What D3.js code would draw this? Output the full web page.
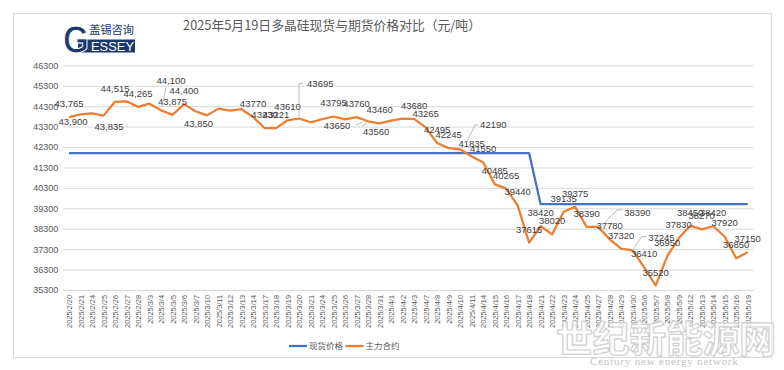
<!DOCTYPE html>
<html>
<head>
<meta charset="utf-8">
<script src="https://cdn.jsdelivr.net/npm/d3@7"></script>
<style>
  html, body { margin: 0; padding: 0; background: #fff; }
  svg { display: block; }
</style>
</head>
<body>
<div id="chart"></div>
<script>
const dates = [
  "2025/2/20","2025/2/21","2025/2/24","2025/2/25","2025/2/26","2025/2/27","2025/2/28",
  "2025/3/3","2025/3/4","2025/3/5","2025/3/6","2025/3/7",
  "2025/3/10","2025/3/11","2025/3/12","2025/3/13","2025/3/14",
  "2025/3/17","2025/3/18","2025/3/19","2025/3/20","2025/3/21",
  "2025/3/24","2025/3/25","2025/3/26","2025/3/27","2025/3/28",
  "2025/3/31","2025/4/1","2025/4/2","2025/4/3",
  "2025/4/7","2025/4/8","2025/4/9","2025/4/10","2025/4/11",
  "2025/4/14","2025/4/15","2025/4/16","2025/4/17","2025/4/18",
  "2025/4/21","2025/4/22","2025/4/23","2025/4/24","2025/4/25","2025/4/27",
  "2025/4/28","2025/4/29","2025/4/30",
  "2025/5/6","2025/5/7","2025/5/8","2025/5/9",
  "2025/5/12","2025/5/13","2025/5/14","2025/5/15","2025/5/16","2025/5/19"
];

// 现货价格
const spot = [
  42000,42000,42000,42000,42000,42000,42000,42000,42000,42000,
  42000,42000,42000,42000,42000,42000,42000,42000,42000,42000,
  42000,42000,42000,42000,42000,42000,42000,42000,42000,42000,
  42000,42000,42000,42000,42000,42000,42000,42000,42000,42000,
  42000,39500,39500,39500,39500,39500,39500,39500,39500,39500,
  39500,39500,39500,39500,39500,39500,39500,39500,39500,39500
];

// 主力合约
const futures = [
  43765,43900,43950,43835,44515,44540,44265,44420,44100,43875,
  44400,44050,43850,44180,44080,44150,43770,43230,43221,43610,
  43695,43510,43660,43795,43650,43760,43560,43460,43590,43690,
  43680,43265,42495,42245,42190,41835,41550,40485,40265,39440,
  37615,38420,38020,39135,39375,38390,38390,37780,37320,37245,
  36410,35520,36950,37830,38450,38270,38420,37920,36850,37150
];

// which futures points carry a data label
const labelled = [0,1,3,4,6,8,9,10,12,16,17,18,19,20,23,24,25,26,27,30,
  31,32,33,34,35,36,37,38,39,40,41,42,43,44,45,46,47,48,49,
  50,51,52,53,54,55,56,57,58,59];

const yTicks = [35300,36300,37300,38300,39300,40300,41300,42300,43300,44300,45300,46300];

const title = "2025年5月19日多晶硅现货与期货价格对比（元/吨）";
const seriesNames = ["现货价格", "主力合约"];

const width = 784, height = 370;
const blue = "#4472C4", orange = "#ED7D31";

const svg = d3.select("#chart")
  .append("svg")
  .attr("width", width)
  .attr("height", height)
  .attr("viewBox", [0, 0, width, height]);

svg.append("rect")
  .attr("x", 13.5).attr("y", 13.5)
  .attr("width", 758).attr("height", 344)
  .attr("fill", "#fff")
  .attr("stroke", "#d9d9d9");

const x = d3.scalePoint()
  .domain(dates)
  .range([63.25, 753.45])
  .padding(0.5);

const y = d3.scaleLinear()
  .domain([35300, 46300])
  .range([290, 65.3]);

// y axis + gridlines
svg.append("g")
  .attr("transform", "translate(63.25,0)")
  .call(d3.axisLeft(y).tickValues(yTicks).tickSize(0).tickPadding(5).tickFormat(d3.format("d")))
  .call(g => g.select(".domain").remove())
  .call(g => g.selectAll(".tick line").clone()
    .attr("x2", 690.2)
    .attr("stroke", "#d9d9d9")
    .attr("stroke-width", 1))
  .call(g => g.selectAll(".tick text")
    .attr("fill", "#595959")
    .attr("font-family", "'Liberation Sans', Arial, sans-serif")
    .attr("font-size", 9));

// x axis
svg.append("g")
  .attr("transform", "translate(0,290)")
  .call(d3.axisBottom(x).tickSize(0).tickPadding(5))
  .call(g => g.select(".domain").attr("stroke", "#d9d9d9")
    .attr("d", "M63.25,0.5H753.45"))
  .call(g => g.selectAll(".tick text")
    .attr("fill", "#595959")
    .attr("font-family", "'Liberation Sans', Arial, sans-serif")
    .attr("font-size", 7.4)
    .attr("text-anchor", "end")
    .attr("transform", "rotate(-90)")
    .attr("x", -5)
    .attr("y", 0)
    .attr("dy", "0.35em"));

const line = d3.line()
  .x((d, i) => x(dates[i]))
  .y(d => y(d));

svg.append("path")
  .attr("fill", "none")
  .attr("stroke", blue)
  .attr("stroke-width", 2.25)
  .attr("stroke-linejoin", "round")
  .attr("d", line(spot));

svg.append("path")
  .attr("fill", "none")
  .attr("stroke", orange)
  .attr("stroke-width", 2.25)
  .attr("stroke-linejoin", "round")
  .attr("d", line(futures));

// label placement tweaks (dx, dy of baseline from the point, anchor)
const place = {
  1: [-7.5, 11, "middle"],
  3: [5.5, 14.7, "middle"],
  8: [10, -26.6, "middle"],
  12: [-8.5, 12, "middle"],
  20: [8, -31.8, "start"],
  24: [-8, 9.5, "middle"],
  26: [8, 14, "middle"],
  34: [20, -21, "start"],
  46: [26, -10.5, "start"],
  49: [15.5, -9.6, "start"]
};
const leaders = {
  8: [[1, -3], [5, -23]],
  20: [[0, -2], [0, -35], [3.5, -35]],
  24: [[11, 5.5], [17, 3]],
  26: [[-6, 5], [-1, 1]],
  34: [[6.7, -7.6], [15, -24.3], [18, -24.3]],
  46: [[3.4, -1], [19, -17], [24, -17]],
  49: [[0.5, -1], [9, -13.6], [14, -13.6]]
};

const fmtComma = d3.format(",");
const labels = svg.append("g")
  .attr("font-family", "'Liberation Sans', Arial, sans-serif")
  .attr("font-size", 9.5)
  .attr("fill", "#404040");

svg.append("g")
  .attr("fill", "none")
  .attr("stroke", "#a6a6a6")
  .attr("stroke-width", 0.75)
  .selectAll("path")
  .data(Object.keys(leaders).map(Number))
  .join("path")
  .attr("d", i => d3.line()(leaders[i].map(([dx, dy]) => [x(dates[i]) + dx, y(futures[i]) + dy])));

labels.selectAll("text")
  .data(labelled)
  .join("text")
  .attr("x", i => x(dates[i]) + (place[i] ? place[i][0] : 0))
  .attr("y", i => y(futures[i]) + (place[i] ? place[i][1] : -10))
  .attr("text-anchor", i => place[i] ? place[i][2] : "middle")
  .text(i => i < 13 ? fmtComma(futures[i]) : futures[i]);

// title
svg.append("text")
  .attr("x", 332)
  .attr("y", 30)
  .attr("text-anchor", "middle")
  .attr("font-family", "'Noto Sans CJK SC', sans-serif")
  .attr("font-size", 12.8)
  .attr("fill", "#595959")
  .text(title);

// logo
const logo = svg.append("g").attr("fill", "#1d3a6e");
logo.append("rect")
  .attr("x", 78).attr("y", 39.5)
  .attr("width", 57).attr("height", 13);
logo.append("text")
  .attr("x", 63).attr("y", 52.5)
  .attr("font-family", "'Liberation Sans', Arial, sans-serif")
  .attr("font-weight", "bold")
  .attr("font-size", 39)
  .attr("stroke", "#fff")
  .attr("stroke-width", 1)
  .attr("textLength", 26)
  .attr("lengthAdjust", "spacingAndGlyphs")
  .text("G");
logo.append("text")
  .attr("x", 91).attr("y", 50.8)
  .attr("font-family", "'Liberation Sans', Arial, sans-serif")
  .attr("font-size", 13)
  .attr("fill", "#fff")
  .attr("textLength", 43)
  .attr("lengthAdjust", "spacingAndGlyphs")
  .text("ESSEY");
logo.append("text")
  .attr("x", 89).attr("y", 34)
  .attr("font-family", "'Noto Sans CJK SC', sans-serif")
  .attr("font-size", 11.5)
  .attr("textLength", 45)
  .text("盖锡咨询");

// legend
const legend = svg.append("g")
  .attr("font-family", "'Noto Sans CJK SC', sans-serif")
  .attr("font-size", 8.5)
  .attr("fill", "#595959");
[[289, blue], [345.5, orange]].forEach(([lx, c], k) => {
  legend.append("line")
    .attr("x1", lx).attr("x2", lx + 18)
    .attr("y1", 346).attr("y2", 346)
    .attr("stroke", c).attr("stroke-width", 2.25);
  legend.append("text")
    .attr("x", lx + 20).attr("y", 349)
    .text(seriesNames[k]);
});

// watermark
svg.append("text")
  .attr("x", 556).attr("y", 353)
  .attr("font-family", "'Noto Sans CJK SC', sans-serif")
  .attr("font-weight", "bold")
  .attr("font-size", 37)
  .attr("fill", "#fff")
  .attr("fill-opacity", 0.75)
  .attr("stroke", "#cfcfcf")
  .attr("stroke-width", 1.2)
  .attr("textLength", 220)
  .text("世纪新能源网");
svg.append("text")
  .attr("x", 590).attr("y", 365)
  .attr("font-family", "'Liberation Serif', serif")
  .attr("font-size", 11)
  .attr("fill", "#c4c4c4")
  .attr("textLength", 148)
  .text("Century new energy network");
</script>
</body>
</html>
